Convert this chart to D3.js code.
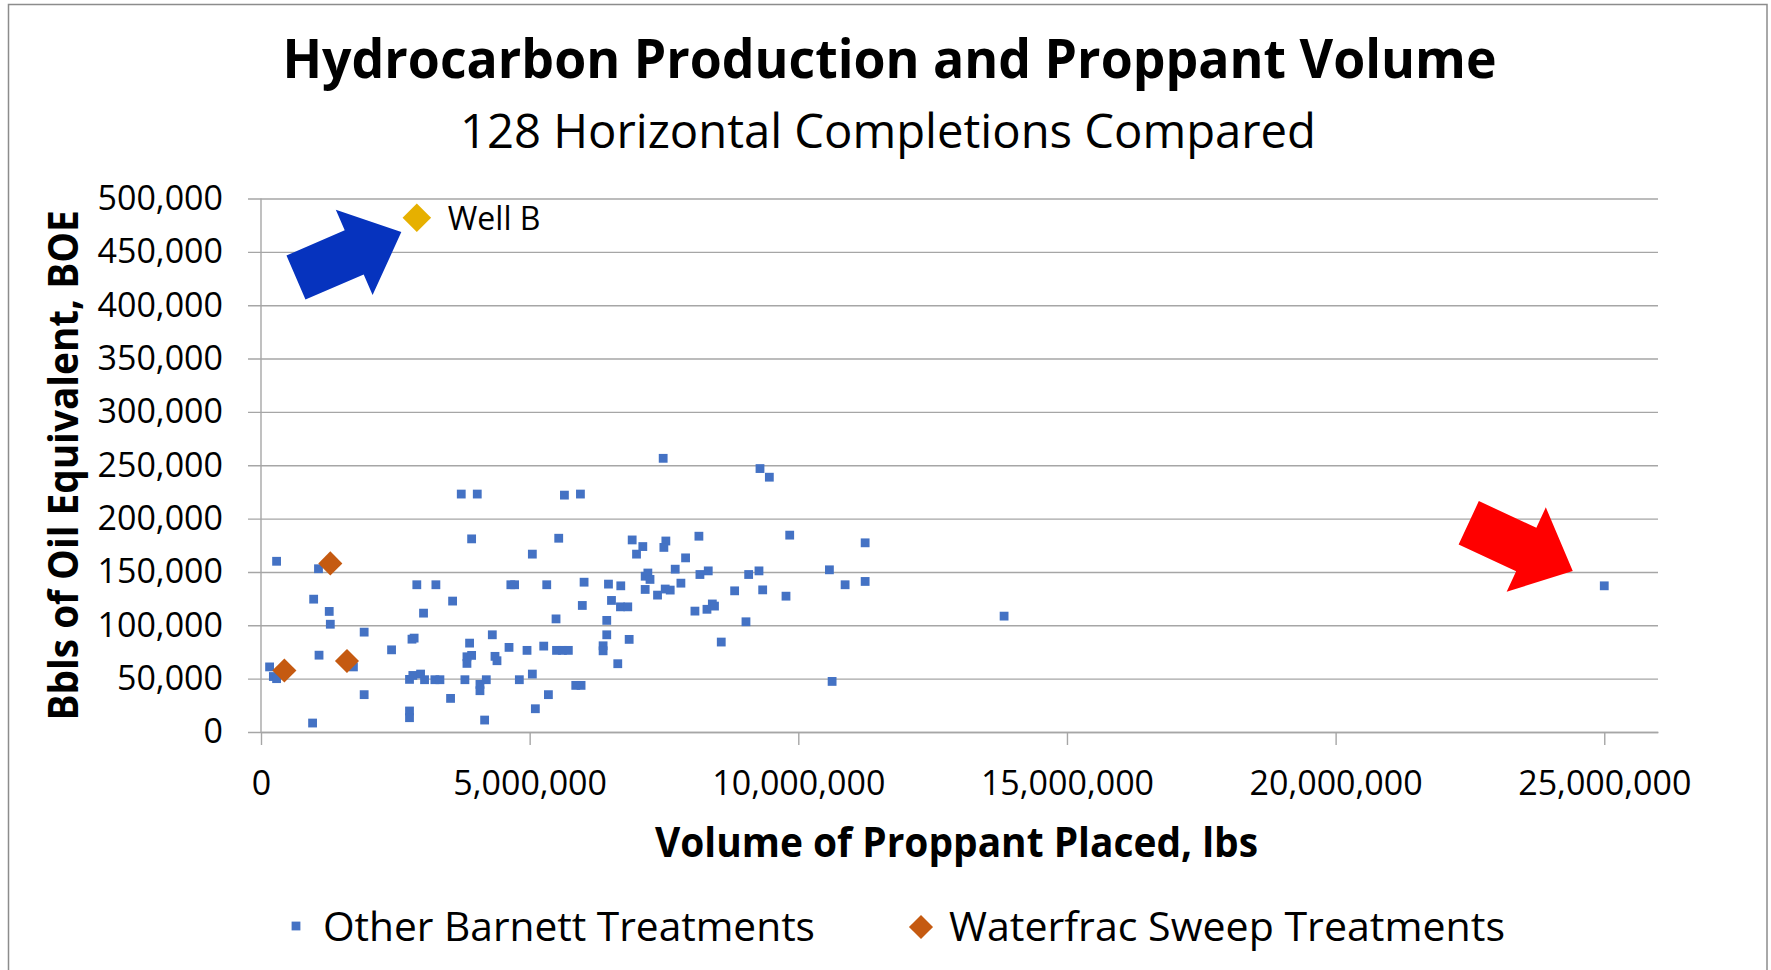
<!DOCTYPE html>
<html>
<head>
<meta charset="utf-8">
<script src="https://cdn.jsdelivr.net/npm/d3@7"></script>
<style>
  body { margin: 0; background: #fff; }
  text { font-family: 'Open Sans', 'Noto Sans', sans-serif; fill: #000; }
</style>
</head>
<body>
<div id="chart"></div>
<script>
// values: [proppant lbs, BOE]
var otherBarnett = [
  [290000, 160000], [1070000, 153000], [980000, 124500], [1270000, 113000], [1290000, 101000],
  [1920000, 93600], [1080000, 72000], [160000, 61000], [230000, 52000], [290000, 50000],
  [1670000, 65000], [1720000, 61000], [1920000, 35000], [960000, 8400],
  [2430000, 77000], [2810000, 87000], [2850000, 88000], [2900000, 138000], [3255000, 138000],
  [3025000, 111400], [3566000, 122700], [2764000, 49300], [2826000, 53000], [2970000, 54300],
  [3044000, 49000], [3236000, 49000], [3330000, 49000], [2764000, 19700], [2764000, 13400],
  [3528000, 31500], [3727000, 223000], [4025000, 223000], [3920000, 181000], [3882000, 83300],
  [3833000, 70500], [3920000, 71800], [3833000, 64300], [3795000, 49000], [4075000, 44600],
  [4075000, 38700], [4193000, 49000], [4162000, 11200], [4305000, 91100], [4355000, 70900],
  [4392000, 66800], [4616000, 79300], [4650000, 138000], [4720000, 138000], [4808000, 49000],
  [4951000, 76500], [5050000, 166700], [5050000, 54300], [5106000, 21800], [5262000, 80500],
  [5318000, 138000], [5349000, 35000], [5491000, 106000], [5541000, 181600], [5647000, 222000],
  [5945000, 223000], [5500000, 76500], [5610000, 76500], [5720000, 76500], [5858000, 43700],
  [5957000, 43700], [5980000, 118600], [6013000, 140400], [6435000, 104600], [6435000, 91100],
  [6367000, 80800], [6367000, 76100], [6467000, 138600], [6523000, 123300], [6696000, 137000],
  [6640000, 64000], [6690000, 117300], [6826000, 117300], [6852000, 86800], [6908000, 180000],
  [7106000, 173800], [6989000, 166700], [7150000, 146000], [7200000, 149000], [7240000, 143000],
  [7150000, 133600], [7380000, 128300], [7485000, 256500], [7535000, 179000], [7498000, 173000],
  [7523000, 134000], [7616000, 133000], [7709000, 152600], [7815000, 139500], [7902000, 163200],
  [8150000, 183500], [8169000, 147600], [8324000, 151000], [8076000, 113300], [8300000, 115000],
  [8400000, 120000], [8440000, 118000], [8566000, 84300], [8815000, 132300], [9287000, 246900],
  [9461000, 238800], [9076000, 147600], [9268000, 151000], [9337000, 133200], [9026000, 103300],
  [9771000, 127300], [9840000, 184500], [10579000, 152000], [10629000, 47400], [10871000, 138000],
  [11244000, 177300], [11244000, 141100], [13830000, 108600], [25000000, 137000]
]
var waterfracSweep = [[1290000, 158000], [435000, 57700], [1600000, 66500]]
var wellB = [[2900000, 482000]]

var xTicks = [0, 5000000, 10000000, 15000000, 20000000, 25000000]
var yTicks = [0, 50000, 100000, 150000, 200000, 250000, 300000, 350000, 400000, 450000, 500000]
var seriesNames = ['Other Barnett Treatments', 'Waterfrac Sweep Treatments']

var titleText = 'Hydrocarbon Production and Proppant Volume'
var subtitleText = '128 Horizontal Completions Compared'
var xTitle = 'Volume of Proppant Placed, lbs'
var yTitle = 'Bbls of Oil Equivalent, BOE'

// Set up margin/height/width
var W = 1771
var H = 970
var margin = { top: 198.5, left: 261, right: 113, bottom: 238 }
var width = W - margin.left - margin.right
var height = H - margin.top - margin.bottom

var svg = d3
  .select('#chart')
  .append('svg')
  .attr('width', W)
  .attr('height', H)

// outer chart border
svg
  .append('rect')
  .attr('x', 8.5)
  .attr('y', 4.5)
  .attr('width', 1758.5)
  .attr('height', 1000)
  .attr('fill', 'none')
  .attr('stroke', '#8c8c8c')
  .attr('stroke-width', 1.5)

var g = svg.append('g').attr('transform', `translate(${margin.left}, ${margin.top})`)

var xPositionScale = d3.scaleLinear().domain([0, 26000000]).range([0, width])
var yPositionScale = d3.scaleLinear().domain([0, 500000]).range([height, 0])

// y axis: gridlines plus labels
var yAxis = d3
  .axisLeft(yPositionScale)
  .tickValues(yTicks)
  .tickFormat(d3.format(','))
  .tickSize(-(width + 13))
  .tickPadding(25)
g.append('g')
  .attr('class', 'axis y-axis')
  .attr('transform', 'translate(-13, 0)')
  .call(yAxis)
  .call(s => s.select('.domain').remove())

// x axis
var xAxis = d3
  .axisBottom(xPositionScale)
  .tickValues(xTicks)
  .tickFormat(d3.format(','))
  .tickSize(13)
  .tickSizeOuter(0)
  .tickPadding(26)
g.append('g')
  .attr('class', 'axis x-axis')
  .attr('transform', `translate(0, ${height})`)
  .call(xAxis)

g.selectAll('.axis line, .axis path')
  .attr('stroke', '#a6a6a6')
  .attr('stroke-width', 1.4)
g.selectAll('.axis text')
  .attr('font-size', 34)
  .attr('fill', '#000')

// vertical axis line
g.append('line')
  .attr('x1', 0)
  .attr('x2', 0)
  .attr('y1', 0)
  .attr('y2', height)
  .attr('stroke', '#a6a6a6')
  .attr('stroke-width', 1.4)

// arrows pointing at Well B and the 25M lbs outlier
var arrowShape = [[0, 0], [-51.3, -46.5], [-51.3, -24], [-114.7, -24], [-114.7, 24], [-51.3, 24], [-51.3, 46.5]]
var arrows = [
  { point: wellB[0], angle: -23.3, dx: -15.5, dy: 14.4, color: '#0633be' },
  { point: otherBarnett[otherBarnett.length - 1], angle: 24.9, dx: -31.5, dy: -14.7, color: '#ff0000' }
]
g.selectAll('.arrow')
  .data(arrows)
  .enter()
  .append('polygon')
  .attr('class', 'arrow')
  .attr('points', arrowShape.map(p => p.join(',')).join(' '))
  .attr('fill', d => d.color)
  .attr('transform', d =>
    `translate(${xPositionScale(d.point[0]) + d.dx}, ${yPositionScale(d.point[1]) + d.dy}) rotate(${d.angle})`)

// blue squares
var sq = 8.8
g.selectAll('.other')
  .data(otherBarnett)
  .enter()
  .append('rect')
  .attr('class', 'other')
  .attr('x', d => xPositionScale(d[0]) - sq / 2)
  .attr('y', d => yPositionScale(d[1]) - sq / 2)
  .attr('width', sq)
  .attr('height', sq)
  .attr('fill', '#4472c4')

var diamond = d3.symbol().type(d3.symbolDiamond2)

g.selectAll('.sweep')
  .data(waterfracSweep)
  .enter()
  .append('path')
  .attr('class', 'sweep')
  .attr('d', diamond.size(370))
  .attr('transform', d => `translate(${xPositionScale(d[0])}, ${yPositionScale(d[1])})`)
  .attr('fill', '#c55a11')

g.selectAll('.wellb')
  .data(wellB)
  .enter()
  .append('path')
  .attr('class', 'wellb')
  .attr('d', diamond.size(520))
  .attr('transform', d => `translate(${xPositionScale(d[0])}, ${yPositionScale(d[1])})`)
  .attr('fill', '#e6b000')

g.selectAll('.wellb-label')
  .data(wellB)
  .enter()
  .append('text')
  .attr('x', d => xPositionScale(d[0]) + 31)
  .attr('y', d => yPositionScale(d[1]) + 12)
  .attr('font-size', 32)
  .text('Well B')

// titles
svg.append('text')
  .attr('x', 889.5)
  .attr('y', 78.3)
  .attr('text-anchor', 'middle')
  .attr('font-size', 54)
  .attr('font-weight', 'bold')
  .attr('textLength', 1214)
  .attr('lengthAdjust', 'spacingAndGlyphs')
  .text(titleText)

svg.append('text')
  .attr('x', 888)
  .attr('y', 148)
  .attr('text-anchor', 'middle')
  .attr('font-size', 47)
  .attr('textLength', 856)
  .attr('lengthAdjust', 'spacingAndGlyphs')
  .text(subtitleText)

svg.append('text')
  .attr('x', 956.5)
  .attr('y', 856.7)
  .attr('text-anchor', 'middle')
  .attr('font-size', 42)
  .attr('font-weight', 'bold')
  .attr('textLength', 603)
  .attr('lengthAdjust', 'spacingAndGlyphs')
  .text(xTitle)

svg.append('text')
  .attr('transform', 'translate(78.3, 465.4) rotate(-90)')
  .attr('text-anchor', 'middle')
  .attr('font-size', 42)
  .attr('font-weight', 'bold')
  .attr('textLength', 510)
  .attr('lengthAdjust', 'spacingAndGlyphs')
  .text(yTitle)

// legend
var legend = svg.append('g').attr('class', 'legend')
legend.append('rect')
  .attr('x', 296 - sq / 2)
  .attr('y', 926 - sq / 2)
  .attr('width', sq)
  .attr('height', sq)
  .attr('fill', '#4472c4')
legend.append('text')
  .attr('x', 323)
  .attr('y', 940.7)
  .attr('font-size', 40.5)
  .attr('textLength', 492)
  .attr('lengthAdjust', 'spacingAndGlyphs')
  .text(seriesNames[0])
legend.append('path')
  .attr('d', diamond.size(370))
  .attr('transform', 'translate(921, 927)')
  .attr('fill', '#c55a11')
legend.append('text')
  .attr('x', 949)
  .attr('y', 940.7)
  .attr('font-size', 40.5)
  .attr('textLength', 556)
  .attr('lengthAdjust', 'spacingAndGlyphs')
  .text(seriesNames[1])
</script>
</body>
</html>
